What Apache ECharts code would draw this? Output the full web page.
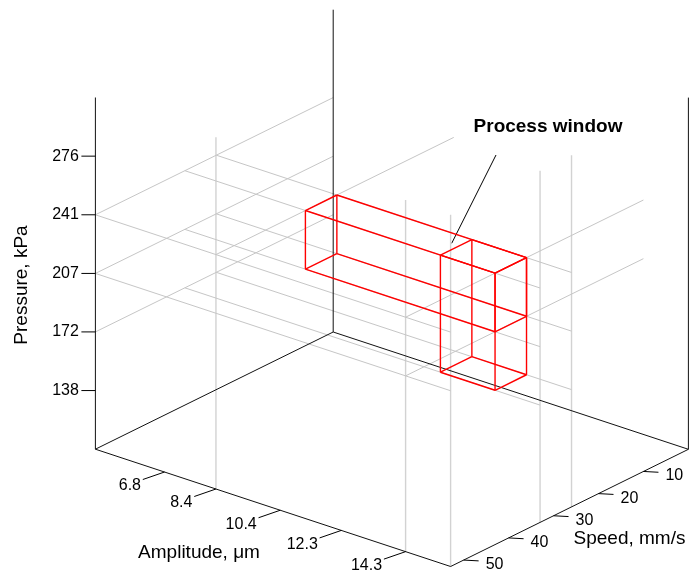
<!DOCTYPE html>
<html>
<head>
<meta charset="utf-8">
<script src="https://cdn.jsdelivr.net/npm/echarts@6/dist/echarts.min.js"></script>
<style>
  html, body { margin: 0; padding: 0; background: #ffffff; }
  #chart { width: 689px; height: 575px; }
</style>
</head>
<body>
<div id="chart"></div>
<script>
// ---- Axis ranges: amplitude (µm), speed (mm/s), pressure (kPa) ----
const amplitudeRange = [4.65, 15.7];
const speedRange = [0, 52.9];
const pressureRange = [103.4, 310.3];

// ---- Tick values and labels ----
const amplitudeTicks = [6.8, 8.4, 10.4, 12.3, 14.3];
const amplitudeTickLabels = ['6.8', '8.4', '10.4', '12.3', '14.3'];
const speedTicks = [10, 20, 30, 40, 50];
const speedTickLabels = ['10', '20', '30', '40', '50'];
const pressureTicks = [137.9, 172.4, 206.8, 241.3, 275.8];
const pressureTickLabels = ['138', '172', '207', '241', '276'];

// ---- Process window: main block and the deeper block ----
const windowAmplitude = [8.4, 14.3];
const windowSpeed = [26, 33];
const windowPressure = [206.8, 241.3];
const deepAmplitude = [12.6, 14.3];
const deepSpeed = [26, 33];
const deepPressure = [172.4, 241.3];

// Height reached by the rear vertical edge of the box
const rearEdgeTop = 293;

// ---- Oblique view of the 3-D box onto the flat plotting plane ----
const VIEW_ORIGIN = [333.2, 332.0];   // rear-bottom corner
const VIEW_A = [355.2, 117.3];        // full amplitude span
const VIEW_S = [-237.8, 117.2];       // full speed span
const VIEW_P = [0, -351.7];           // full pressure span

function frac(v, r) { return (v - r[0]) / (r[1] - r[0]); }
function project(a, s, p) {
  const fa = frac(a, amplitudeRange), fs = frac(s, speedRange), fp = frac(p, pressureRange);
  return [
    VIEW_ORIGIN[0] + fa * VIEW_A[0] + fs * VIEW_S[0] + fp * VIEW_P[0],
    VIEW_ORIGIN[1] + fa * VIEW_A[1] + fs * VIEW_S[1] + fp * VIEW_P[1]
  ];
}
function seg(from, to) {
  const A = project(from[0], from[1], from[2]);
  const B = project(to[0], to[1], to[2]);
  return [A[0], A[1], B[0], B[1]];
}

const aMin = amplitudeRange[0], aMax = amplitudeRange[1];
const sMin = speedRange[0], sMax = speedRange[1];
const pMin = pressureRange[0], pMax = pressureRange[1];

// ---- Box frame (black) ----
const frameSegments = [
  seg([aMin, sMax, pMin], [aMin, sMax, pMax]),
  seg([aMin, sMin, pMin], [aMin, sMin, rearEdgeTop]),
  seg([aMax, sMin, pMin], [aMax, sMin, pMax]),
  seg([aMin, sMax, pMin], [aMin, sMin, pMin]),
  seg([aMin, sMin, pMin], [aMax, sMin, pMin]),
  seg([aMin, sMax, pMin], [aMax, sMax, pMin]),
  seg([aMax, sMax, pMin], [aMax, sMin, pMin])
];

// ---- Guide lines (grey) locating the process window ----
const guidePressures = Array.from(new Set(deepPressure.concat(windowPressure))).sort((x, y) => x - y);
const guideSlanted = [];
guidePressures.forEach(p => {
  guideSlanted.push(seg([aMin, sMin, p], [aMin, sMax, p]));            // left wall
  windowSpeed.forEach(s => guideSlanted.push(seg([aMin, s, p], [aMax, s, p])));
});
windowPressure.forEach(p => guideSlanted.push(seg([aMin, sMax, p], [aMax, sMax, p])));
// speed-direction lines through the upper / outer window edges
[[windowAmplitude[0], windowPressure[1]],
 [windowAmplitude[1], windowPressure[1]],
 [windowAmplitude[1], windowPressure[0]]].forEach(([a, p]) => {
  guideSlanted.push(seg([a, sMin, p], [a, sMax, p]));
});
const guideVertical = [];
windowAmplitude.concat([aMax]).forEach(a => guideVertical.push(seg([a, sMax, pMin], [a, sMax, pMax])));
windowSpeed.forEach(s => guideVertical.push(seg([aMax, s, pMin], [aMax, s, pMax])));

// ---- Process window edges (red) ----
function boxEdges(aR, sR, pR) {
  const out = [];
  for (const s of sR) for (const p of pR) out.push(seg([aR[0], s, p], [aR[1], s, p]));
  for (const a of aR) for (const p of pR) out.push(seg([a, sR[0], p], [a, sR[1], p]));
  for (const a of aR) for (const s of sR) out.push(seg([a, s, pR[0]], [a, s, pR[1]]));
  return out;
}
const windowSegments = boxEdges(windowAmplitude, windowSpeed, windowPressure)
  .concat(boxEdges(deepAmplitude, deepSpeed, deepPressure));

// ---- Tick anchors on the axis edges ----
const pressureTickPts = pressureTicks.map(p => project(aMin, sMax, p));
const amplitudeTickPts = amplitudeTicks.map(a => project(a, sMax, pMin));
const speedTickPts = speedTicks.map(s => project(aMax, s, pMin));

const FONT = '"Liberation Sans", Arial, Helvetica, sans-serif';

function segmentSeries(data, style, z) {
  return {
    type: 'custom', coordinateSystem: 'cartesian2d', silent: true, clip: false, z: z,
    data: data,
    renderItem: function (params, api) {
      const p1 = api.coord([api.value(0), api.value(1)]);
      const p2 = api.coord([api.value(2), api.value(3)]);
      return { type: 'line', shape: { x1: p1[0], y1: p1[1], x2: p2[0], y2: p2[1] },
               style: Object.assign({ fill: null }, style) };
    }
  };
}

// ticks: short marks from an anchor with a fixed screen offset
function tickSeries(points, dx, dy) {
  return {
    type: 'custom', coordinateSystem: 'cartesian2d', silent: true, clip: false, z: 5,
    data: points,
    renderItem: function (params, api) {
      const p = api.coord([api.value(0), api.value(1)]);
      return { type: 'line', shape: { x1: p[0], y1: p[1], x2: p[0] + dx, y2: p[1] + dy },
               style: { stroke: '#000', lineWidth: 1 } };
    }
  };
}

function labelSeries(points, labels, dx, dy, align) {
  return {
    type: 'custom', coordinateSystem: 'cartesian2d', silent: true, clip: false, z: 6,
    data: points,
    renderItem: function (params, api) {
      const p = api.coord([api.value(0), api.value(1)]);
      return { type: 'text', x: p[0] + dx, y: p[1] + dy,
               style: { text: labels[params.dataIndex], fill: '#000',
                        font: '16px ' + FONT, align: align, verticalAlign: 'middle' } };
    }
  };
}

const chart = echarts.init(document.getElementById('chart'), null, { renderer: 'canvas' });
chart.setOption({
  animation: false,
  backgroundColor: '#ffffff',
  grid: { left: 0, right: 0, top: 0, bottom: 0 },
  xAxis: { type: 'value', min: 0, max: 689, show: false },
  yAxis: { type: 'value', min: 0, max: 575, inverse: true, show: false },
  series: [
    segmentSeries(guideVertical, { stroke: '#d2d2d2', lineWidth: 1.4 }, 1),
    segmentSeries(guideSlanted, { stroke: '#c6c6c6', lineWidth: 1 }, 2),
    segmentSeries(frameSegments, { stroke: '#111111', lineWidth: 1 }, 3),
    segmentSeries(windowSegments, { stroke: '#ff0000', lineWidth: 1.4 }, 4),
    tickSeries(pressureTickPts, -14, 0),
    tickSeries(amplitudeTickPts, -21.7, 7.5),
    tickSeries(speedTickPts, 15, 0.8),
    labelSeries(pressureTickPts, pressureTickLabels, -16.5, 0, 'right'),
    labelSeries(amplitudeTickPts, amplitudeTickLabels, -23.5, 14, 'right'),
    labelSeries(speedTickPts, speedTickLabels, 22, 4.5, 'left')
  ],
  graphic: [
    { type: 'text', x: 22, y: 285, rotation: Math.PI / 2, silent: true,
      style: { text: 'Pressure, kPa', fill: '#000', font: '19px ' + FONT, align: 'center', verticalAlign: 'middle' } },
    { type: 'text', x: 199, y: 552.5, silent: true,
      style: { text: 'Amplitude, \u03bcm', fill: '#000', font: '19px ' + FONT, align: 'center', verticalAlign: 'middle' } },
    { type: 'text', x: 629.5, y: 538.5, silent: true,
      style: { text: 'Speed, mm/s', fill: '#000', font: '19px ' + FONT, align: 'center', verticalAlign: 'middle' } },
    { type: 'text', x: 548, y: 126.5, silent: true,
      style: { text: 'Process window', fill: '#000', font: 'bold 19px ' + FONT, align: 'center', verticalAlign: 'middle' } },
    { type: 'line', silent: true, shape: { x1: 496, y1: 155, x2: 451.7, y2: 243.3 },
      style: { stroke: '#000', lineWidth: 1 } }
  ]
});
</script>
</body>
</html>
